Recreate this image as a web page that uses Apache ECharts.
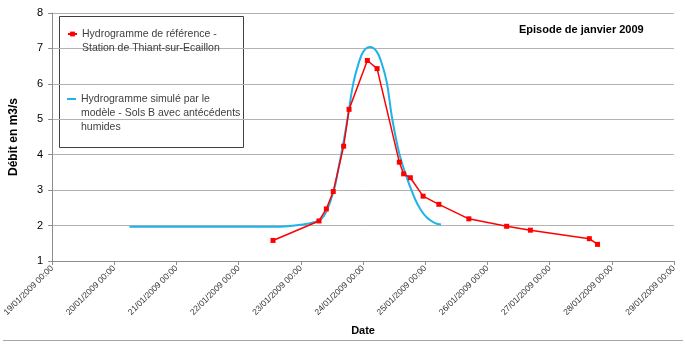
<!DOCTYPE html>
<html>
<head>
<meta charset="utf-8">
<script src="https://cdn.jsdelivr.net/npm/echarts@6/dist/echarts.min.js"></script>
<style>html,body{margin:0;padding:0;background:#fff;}#c{width:685px;height:354px;}</style>
</head>
<body>
<div id="c"></div>
<script>
// Observed hydrograph (red)
const refTimes = ['2009-01-22 13:15','2009-01-23 07:00','2009-01-23 09:50','2009-01-23 12:30','2009-01-23 16:30','2009-01-23 18:36','2009-01-24 01:40','2009-01-24 05:25','2009-01-24 14:00','2009-01-24 15:40','2009-01-24 18:15','2009-01-24 23:10','2009-01-25 05:15','2009-01-25 16:50','2009-01-26 07:25','2009-01-26 16:35','2009-01-27 15:20','2009-01-27 18:30'];
const refValues = [1.58,2.13,2.47,2.96,4.24,5.28,6.66,6.43,3.79,3.46,3.35,2.83,2.60,2.19,1.98,1.87,1.63,1.47];
// Simulated hydrograph (blue)
const simTimes = ['2009-01-20 05:50','2009-01-21 09:00','2009-01-22 16:00','2009-01-22 23:40','2009-01-23 05:28','2009-01-23 08:04','2009-01-23 10:00','2009-01-23 11:55','2009-01-23 13:12','2009-01-23 14:28','2009-01-23 16:23','2009-01-23 18:20','2009-01-23 20:15','2009-01-23 22:10','2009-01-24 00:07','2009-01-24 02:43','2009-01-24 05:17','2009-01-24 07:12','2009-01-24 09:09','2009-01-24 11:04','2009-01-24 13:00','2009-01-24 14:17','2009-01-24 16:12','2009-01-24 18:08','2009-01-24 20:04','2009-01-24 21:59','2009-01-25 00:42','2009-01-25 03:48','2009-01-25 06:06'];
const simValues = [1.97,1.97,1.97,2.02,2.10,2.20,2.42,2.80,3.12,3.60,4.32,5.17,6.02,6.55,6.91,7.04,6.91,6.58,6.05,5.10,4.35,3.95,3.50,3.10,2.75,2.48,2.22,2.07,2.03];
const xMinLabel = '2009-01-19 00:00';
const xMaxLabel = '2009-01-29 00:00';
const yTicks = [1,2,3,4,5,6,7,8];
const seriesNames = ['Hydrogramme de référence -\nStation de Thiant-sur-Ecaillon','Hydrogramme simulé par le\nmodèle - Sols B avec antécédents\nhumides'];

function toMs(s){ const [d,t]=s.split(' '); const [Y,M,D]=d.split('-').map(Number); const [h,m]=t.split(':').map(Number); return Date.UTC(Y,M-1,D,h,m); }
function pad(n){ return (n<10?'0':'')+n; }
function fmt(ms){ const d=new Date(ms); return pad(d.getUTCDate())+'/'+pad(d.getUTCMonth()+1)+'/'+d.getUTCFullYear()+' '+pad(d.getUTCHours())+':'+pad(d.getUTCMinutes()); }
const DAY = 86400000;
const FONT = 'Liberation Sans';
const legendText = {fontFamily:FONT, fontSize:10.5, lineHeight:14, color:'#404040'};

const chart = echarts.init(document.getElementById('c'), null, {renderer:'canvas'});
chart.setOption({
  animation:false,
  backgroundColor:'#fff',
  title:{text:'Episode de janvier 2009', left:519, top:24, padding:0,
    textStyle:{fontFamily:FONT, fontSize:11, fontWeight:'bold', color:'#000'}},
  grid:{left:52, right:11, top:13, bottom:93, containLabel:false},
  legend:[
    {left:67, top:13, padding:0, itemWidth:9, itemHeight:6, orient:'vertical',
     data:[seriesNames[0]], formatter:(n)=>'\n'+n, textStyle:legendText},
    {left:67, top:64, padding:0, itemWidth:9, itemHeight:2, orient:'vertical',
     data:[{name:seriesNames[1], icon:'rect'}], formatter:(n)=>'\n\n'+n, textStyle:legendText}
  ],
  xAxis:{type:'value', min:toMs(xMinLabel), max:toMs(xMaxLabel), interval:DAY,
    name:'Date', nameLocation:'middle', nameGap:64,
    nameTextStyle:{fontFamily:FONT, fontSize:11, fontWeight:'bold', color:'#000'},
    axisLine:{show:true, lineStyle:{color:'#8c8c8c', width:1}},
    axisTick:{show:true, length:4, lineStyle:{color:'#8c8c8c'}},
    axisLabel:{rotate:45, fontFamily:FONT, fontSize:8.5, color:'#333', margin:6, formatter:fmt, showMinLabel:true, showMaxLabel:true},
    splitLine:{show:false}},
  yAxis:{type:'value', min:yTicks[0], max:yTicks[yTicks.length-1], interval:1,
    name:'Débit en m3/s', nameLocation:'middle', nameGap:32,
    nameTextStyle:{fontFamily:FONT, fontSize:12, fontWeight:'bold', color:'#000'},
    axisLine:{show:true, lineStyle:{color:'#8c8c8c', width:1}},
    axisTick:{show:true, length:4, lineStyle:{color:'#8c8c8c'}},
    axisLabel:{fontFamily:FONT, fontSize:11, color:'#000', margin:9},
    splitLine:{show:true, lineStyle:{color:'#b3b3b3', width:1}}},
  graphic:[
    {type:'rect', shape:{x:59.5, y:16.5, width:184, height:131}, style:{fill:'#fff', stroke:'#404040', lineWidth:1}, z:-1},
    {type:'line', shape:{x1:3, y1:340.5, x2:683, y2:340.5}, style:{stroke:'#a6a6a6', lineWidth:1}}
  ],
  series:[
    {name:seriesNames[0], type:'line', data:refTimes.map((t,i)=>[toMs(t), refValues[i]]),
     symbol:'rect', symbolSize:5, showSymbol:true, itemStyle:{color:'#ff0000'},
     lineStyle:{color:'#ff0000', width:1.5}, z:3},
    {name:seriesNames[1], type:'line', data:simTimes.map((t,i)=>[toMs(t), simValues[i]]),
     symbol:'none', smooth:0.4, itemStyle:{color:'#1fb3e8'},
     lineStyle:{color:'#1fb3e8', width:2}, z:2}
  ]
});
</script>
</body>
</html>
